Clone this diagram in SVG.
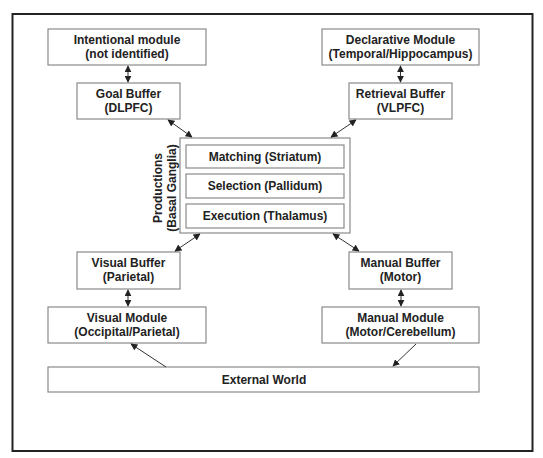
<svg xmlns="http://www.w3.org/2000/svg" width="543" height="458" viewBox="0 0 543 458">
<style>
.box{fill:#fff;stroke:#8a8a8a;stroke-width:1.2}
.frame{fill:#fff;stroke:#222;stroke-width:2}
text{font-family:"Liberation Sans",Arial,sans-serif;font-weight:bold;font-size:12px;fill:#222;text-anchor:middle}
.c{stroke:#333;stroke-width:1;fill:none}
</style>
<defs>
<marker id="ah" viewBox="0 0 10 10" refX="9" refY="5" markerWidth="7" markerHeight="7" orient="auto-start-reverse" markerUnits="userSpaceOnUse">
<path d="M0,0 L10,5 L0,10 z" fill="#222"/>
</marker>
</defs>
<rect x="0" y="0" width="543" height="458" fill="#fff"/>
<rect class="frame" x="12.5" y="14" width="520" height="437"/>

<g id="intentional">
<rect class="box" x="48" y="29" width="158" height="36"/>
<text x="127" y="44">Intentional module</text>
<text x="127" y="58">(not identified)</text>
</g>
<g id="goal">
<rect class="box" x="77" y="83" width="103" height="36"/>
<text x="128.5" y="98">Goal Buffer</text>
<text x="128.5" y="112">(DLPFC)</text>
</g>
<g id="declarative">
<rect class="box" x="322" y="29" width="157" height="36"/>
<text x="400.5" y="44">Declarative Module</text>
<text x="400.5" y="58">(Temporal/Hippocampus)</text>
</g>
<g id="retrieval">
<rect class="box" x="349" y="83" width="103" height="36"/>
<text x="400.5" y="98">Retrieval Buffer</text>
<text x="400.5" y="112">(VLPFC)</text>
</g>
<g id="productions">
<rect class="box" x="180" y="138" width="170" height="95"/>
<text transform="translate(161.5,188) rotate(-90)">Productions</text>
<text transform="translate(176,188) rotate(-90)">(Basal Ganglia)</text>
<g id="matching">
<rect class="box" x="186" y="145" width="158" height="23"/>
<text x="265" y="160.5">Matching (Striatum)</text>
</g>
<g id="selection">
<rect class="box" x="186" y="174" width="158" height="24"/>
<text x="265" y="190">Selection (Pallidum)</text>
</g>
<g id="execution">
<rect class="box" x="186" y="204" width="158" height="24"/>
<text x="265" y="220">Execution (Thalamus)</text>
</g>
</g>
<g id="visualbuffer">
<rect class="box" x="77" y="252" width="103" height="37"/>
<text x="128.5" y="267">Visual Buffer</text>
<text x="128.5" y="281">(Parietal)</text>
</g>
<g id="visualmodule">
<rect class="box" x="48" y="307" width="158" height="36"/>
<text x="127" y="322">Visual Module</text>
<text x="127" y="336">(Occipital/Parietal)</text>
</g>
<g id="manualbuffer">
<rect class="box" x="349" y="252" width="103" height="37"/>
<text x="400.5" y="267">Manual Buffer</text>
<text x="400.5" y="281">(Motor)</text>
</g>
<g id="manualmodule">
<rect class="box" x="322" y="307" width="157" height="36"/>
<text x="400.5" y="322">Manual Module</text>
<text x="400.5" y="336">(Motor/Cerebellum)</text>
</g>
<g id="external">
<rect class="box" x="48" y="367" width="431" height="25"/>
<text x="264" y="383.5">External World</text>
</g>

<g id="connectors">
<line class="c" x1="128" y1="66" x2="128" y2="82" marker-start="url(#ah)" marker-end="url(#ah)"/>
<line class="c" x1="400.5" y1="66" x2="400.5" y2="82" marker-start="url(#ah)" marker-end="url(#ah)"/>
<line class="c" x1="168" y1="120" x2="192" y2="137" marker-start="url(#ah)" marker-end="url(#ah)"/>
<line class="c" x1="356" y1="120" x2="331" y2="137" marker-start="url(#ah)" marker-end="url(#ah)"/>
<line class="c" x1="200" y1="234" x2="175" y2="251" marker-start="url(#ah)" marker-end="url(#ah)"/>
<line class="c" x1="333" y1="234" x2="359" y2="251" marker-start="url(#ah)" marker-end="url(#ah)"/>
<line class="c" x1="128" y1="290" x2="128" y2="306" marker-start="url(#ah)" marker-end="url(#ah)"/>
<line class="c" x1="401" y1="290" x2="401" y2="306" marker-start="url(#ah)" marker-end="url(#ah)"/>
<line class="c" x1="166" y1="367" x2="131" y2="344" marker-end="url(#ah)"/>
<line class="c" x1="416" y1="344" x2="393" y2="366" marker-end="url(#ah)"/>
</g>
</svg>
